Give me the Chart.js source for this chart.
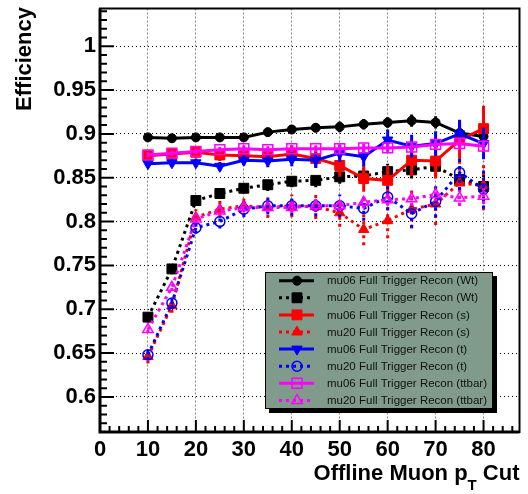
<!DOCTYPE html>
<html>
<head>
<meta charset="utf-8">
<script src="https://cdn.jsdelivr.net/npm/chart.js@4.4.0/dist/chart.umd.min.js"></script>
<style>
  html, body { margin: 0; padding: 0; background: #fff; }
  #wrap { width: 528px; height: 494px; }
</style>
</head>
<body>
<div id="wrap"><canvas id="effChart" width="528" height="494"></canvas></div>
<script>
// offline muon pT cut values
const ptCuts = [10, 15, 20, 25, 30, 35, 40, 45, 50, 55, 60, 65, 70, 75, 80];

// efficiencies
const wtMu06 = [0.896, 0.895, 0.896, 0.896, 0.896, 0.902, 0.905, 0.907, 0.908, 0.911, 0.913, 0.915, 0.913, 0.901, 0.897];
const wtMu20 = [0.691, 0.746, 0.824, 0.832, 0.838, 0.842, 0.846, 0.847, 0.851, 0.852, 0.857, 0.859, 0.863, 0.848, 0.840];
const sMu06 = [0.875, 0.877, 0.879, 0.876, 0.875, 0.874, 0.877, 0.872, 0.864, 0.849, 0.847, 0.870, 0.869, 0.893, 0.906];
const sMu20 = [0.646, 0.704, 0.805, 0.814, 0.818, 0.816, 0.818, 0.817, 0.810, 0.791, 0.801, 0.814, 0.820, 0.844, 0.841];
const tMu06 = [0.866, 0.867, 0.867, 0.863, 0.870, 0.869, 0.871, 0.870, 0.878, 0.874, 0.893, 0.886, 0.889, 0.900, 0.889];
const tMu20 = [0.648, 0.707, 0.793, 0.800, 0.814, 0.818, 0.818, 0.818, 0.818, 0.815, 0.828, 0.809, 0.823, 0.856, 0.837];
const ttMu06 = [0.876, 0.878, 0.880, 0.882, 0.883, 0.882, 0.883, 0.883, 0.883, 0.884, 0.884, 0.885, 0.888, 0.889, 0.886];
const ttMu20 = [0.677, 0.725, 0.803, 0.812, 0.816, 0.816, 0.816, 0.818, 0.818, 0.822, 0.825, 0.826, 0.831, 0.827, 0.829];

// statistical errors (half length of the vertical bars)
const wtMu06Err = [0.004, 0.004, 0.004, 0.004, 0.004, 0.005, 0.005, 0.005, 0.006, 0.006, 0.006, 0.007, 0.007, 0.008, 0.009];
const wtMu20Err = [0.006, 0.006, 0.006, 0.006, 0.006, 0.007, 0.007, 0.008, 0.008, 0.009, 0.009, 0.010, 0.011, 0.012, 0.013];
const sMu06Err = [0.006, 0.006, 0.006, 0.007, 0.008, 0.009, 0.010, 0.011, 0.013, 0.015, 0.016, 0.018, 0.020, 0.022, 0.026];
const sMu20Err = [0.008, 0.008, 0.009, 0.010, 0.011, 0.012, 0.013, 0.014, 0.016, 0.018, 0.020, 0.022, 0.024, 0.026, 0.028];
const tMu06Err = [0.004, 0.004, 0.005, 0.005, 0.006, 0.007, 0.008, 0.009, 0.010, 0.011, 0.012, 0.013, 0.014, 0.016, 0.018];
const tMu20Err = [0.006, 0.006, 0.007, 0.008, 0.009, 0.010, 0.011, 0.012, 0.013, 0.014, 0.015, 0.016, 0.018, 0.020, 0.022];
const ttMu06Err = [0.003, 0.003, 0.003, 0.003, 0.004, 0.004, 0.004, 0.004, 0.005, 0.005, 0.005, 0.006, 0.006, 0.007, 0.007];
const ttMu20Err = [0.004, 0.004, 0.004, 0.005, 0.005, 0.005, 0.006, 0.006, 0.006, 0.007, 0.007, 0.008, 0.008, 0.009, 0.009];

const seriesLabels = [
    "mu06 Full Trigger Recon (Wt)",
    "mu20 Full Trigger Recon (Wt)",
    "mu06 Full Trigger Recon (s)",
    "mu20 Full Trigger Recon (s)",
    "mu06 Full Trigger Recon (t)",
    "mu20 Full Trigger Recon (t)",
    "mu06 Full Trigger Recon (ttbar)",
    "mu20 Full Trigger Recon (ttbar)"
];

const xTicks = [0, 10, 20, 30, 40, 50, 60, 70, 80];
const yTicks = [0.6, 0.65, 0.7, 0.75, 0.8, 0.85, 0.9, 0.95, 1];

const FONT = "'Liberation Sans', Arial, Helvetica, sans-serif";
const DOTS = [3, 4];

function makeSet(i, values, errors, color, dotted, style, radius, open, rotation) {
    return {
        label: seriesLabels[i],
        data: ptCuts.map((x, k) => ({ x: x, y: values[k] })),
        errors: errors,
        borderColor: color,
        backgroundColor: color,
        borderWidth: 3,
        borderDash: dotted ? DOTS : [],
        tension: 0,
        pointStyle: style,
        pointRadius: radius,
        pointRotation: rotation || 0,
        pointBorderColor: color,
        pointBackgroundColor: open ? "rgba(0,0,0,0)" : color,
        pointBorderWidth: open ? 1.5 : 1,
        order: 8 - i
    };
}

const datasets = [
    makeSet(0, wtMu06, wtMu06Err, "#000000", false, "circle", 4.5, false),
    makeSet(1, wtMu20, wtMu20Err, "#000000", true, "rect", 7, false),
    makeSet(2, sMu06, sMu06Err, "#ff0000", false, "rect", 7, false),
    makeSet(3, sMu20, sMu20Err, "#ff0000", true, "triangle", 6, false),
    makeSet(4, tMu06, tMu06Err, "#0000ff", false, "triangle", 6, false, 180),
    makeSet(5, tMu20, tMu20Err, "#0000ff", true, "circle", 5, true),
    makeSet(6, ttMu06, ttMu06Err, "#ff00ff", false, "rect", 7, true),
    makeSet(7, ttMu20, ttMu20Err, "#ff00ff", true, "triangle", 6, true)
];

// vertical error bars, drawn just under each series
const errorBars = {
    id: "errorBars",
    beforeDatasetDraw(chart, args) {
        const ds = chart.data.datasets[args.index];
        const xs = chart.scales.x, ys = chart.scales.y, area = chart.chartArea;
        const ctx = chart.ctx;
        ctx.save();
        ctx.beginPath();
        ctx.rect(area.left, area.top, area.right - area.left, area.bottom - area.top);
        ctx.clip();
        ctx.strokeStyle = ds.borderColor;
        ctx.lineWidth = 3;
        ctx.setLineDash(ds.borderDash);
        ds.data.forEach((p, k) => {
            const px = xs.getPixelForValue(p.x);
            ctx.beginPath();
            ctx.moveTo(px, ys.getPixelForValue(p.y - ds.errors[k]));
            ctx.lineTo(px, ys.getPixelForValue(p.y + ds.errors[k]));
            ctx.stroke();
        });
        ctx.restore();
    }
};

// ROOT style frame, inward ticks, axis titles and legend box
const decorations = {
    id: "decorations",
    afterDraw(chart) {
        const ctx = chart.ctx, area = chart.chartArea;
        const xs = chart.scales.x, ys = chart.scales.y;
        ctx.save();
        ctx.setLineDash([]);
        ctx.strokeStyle = "#000";

        ctx.lineWidth = 2;
        ctx.strokeRect(area.left, area.top, area.right - area.left, area.bottom - area.top);
        ctx.lineWidth = 3;
        ctx.beginPath();
        ctx.moveTo(area.left, area.top);
        ctx.lineTo(area.left, area.bottom);
        ctx.lineTo(area.right, area.bottom);
        ctx.stroke();

        ctx.lineWidth = 2;
        ctx.beginPath();
        for (let v = 0; v <= 86; v += 2) {
            const px = xs.getPixelForValue(v);
            const len = v % 10 === 0 ? 12 : 6;
            ctx.moveTo(px, area.bottom);
            ctx.lineTo(px, area.bottom - len);
        }
        for (let k = 57; k <= 104; k++) {
            const py = ys.getPixelForValue(k / 100);
            const len = k % 5 === 0 ? 14 : 7;
            ctx.moveTo(area.left, py);
            ctx.lineTo(area.left + len, py);
        }
        ctx.stroke();

        ctx.fillStyle = "#000";
        ctx.font = "bold 22px " + FONT;
        ctx.textBaseline = "alphabetic";
        ctx.textAlign = "right";
        const tail = " Cut";
        const tailW = ctx.measureText(tail).width;
        ctx.fillText(tail, area.right, 480);
        ctx.font = "bold 15px " + FONT;
        const subW = ctx.measureText("T").width;
        ctx.fillText("T", area.right - tailW, 490);
        ctx.font = "bold 22px " + FONT;
        ctx.fillText("Offline Muon p", area.right - tailW - subW, 480);

        ctx.save();
        ctx.translate(31, 7);
        ctx.rotate(-Math.PI / 2);
        ctx.textAlign = "right";
        ctx.fillText("Efficiency", 0, 0);
        ctx.restore();

        // legend
        const bx = 265, by = 272, bw = 228, bh = 137;
        ctx.fillStyle = "#000";
        ctx.fillRect(bx + 4, by + 4, bw, bh);
        ctx.fillStyle = "#809b8b";
        ctx.fillRect(bx, by, bw, bh);
        ctx.lineWidth = 1;
        ctx.strokeRect(bx + 0.5, by + 0.5, bw - 1, bh - 1);

        ctx.font = "11.5px " + FONT;
        ctx.textAlign = "left";
        ctx.textBaseline = "middle";
        chart.data.datasets.forEach((ds, i) => {
            const cy = 280.7 + i * 17.1;
            ctx.strokeStyle = ds.borderColor;
            ctx.lineWidth = 3;
            ctx.setLineDash(ds.borderDash);
            ctx.beginPath();
            ctx.moveTo(279, cy);
            ctx.lineTo(314, cy);
            ctx.stroke();
            ctx.setLineDash([]);
            ctx.fillStyle = ds.pointBackgroundColor;
            ctx.strokeStyle = ds.pointBorderColor;
            ctx.lineWidth = ds.pointBorderWidth;
            Chart.helpers.drawPoint(ctx, {
                pointStyle: ds.pointStyle,
                rotation: ds.pointRotation,
                radius: ds.pointRadius,
                borderWidth: ds.pointBorderWidth
            }, 297, cy);
            ctx.fillStyle = "#111";
            ctx.fillText(ds.label, 327, cy + 0.5);
        });
        ctx.restore();
    }
};

new Chart(document.getElementById("effChart").getContext("2d"), {
    type: "line",
    data: { datasets: datasets },
    plugins: [errorBars, decorations],
    options: {
        responsive: false,
        animation: false,
        devicePixelRatio: 1,
        layout: { padding: { left: 0, right: 8, top: 5, bottom: 0 } },
        plugins: { legend: { display: false }, tooltip: { enabled: false } },
        scales: {
            x: {
                type: "linear",
                min: 0,
                max: 87.5,
                afterFit: s => { s.height = 62; s.paddingLeft = 0; s.paddingRight = 0; },
                afterBuildTicks: s => { s.ticks = xTicks.map(v => ({ value: v })); },
                grid: { color: "#8a8a8a", lineWidth: 1, drawTicks: false },
                border: { display: false, dash: [2, 2] },
                ticks: {
                    color: "#000",
                    padding: 5,
                    maxRotation: 0,
                    font: { family: FONT, size: 22, weight: "bold" }
                }
            },
            y: {
                type: "linear",
                min: 0.56,
                max: 1.043,
                afterFit: s => { s.width = 100; s.paddingTop = 0; s.paddingBottom = 0; },
                afterBuildTicks: s => { s.ticks = yTicks.map(v => ({ value: v })); },
                grid: { color: "#000", lineWidth: 1, drawTicks: false },
                border: { display: false, dash: [1, 3] },
                ticks: {
                    color: "#000",
                    padding: 4,
                    font: { family: FONT, size: 22, weight: "bold" },
                    callback: v => String(Math.round(v * 100) / 100)
                }
            }
        }
    }
});
</script>
</body>
</html>
